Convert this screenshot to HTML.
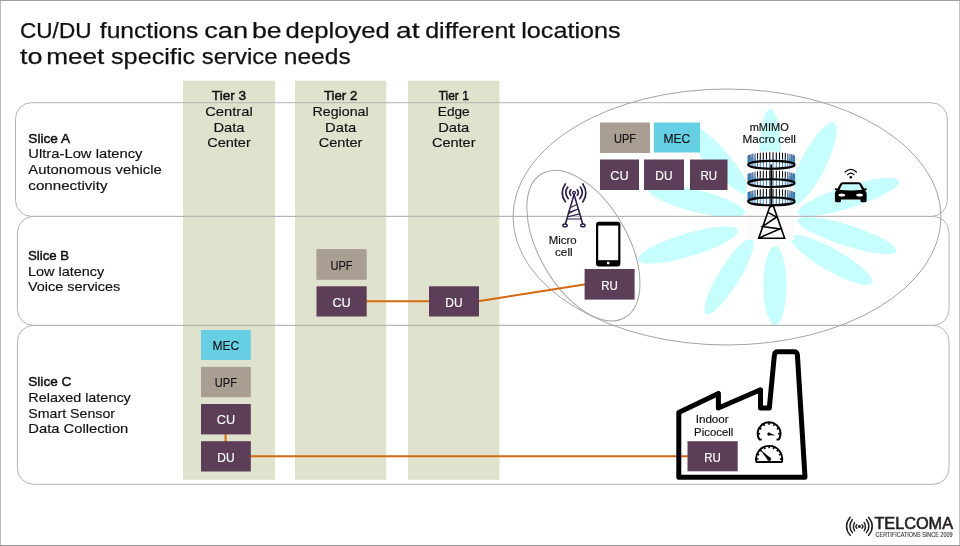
<!DOCTYPE html>
<html><head><meta charset="utf-8"><style>
html,body{margin:0;padding:0;background:#fff;}
svg{display:block;will-change:transform;}
text{font-family:"Liberation Sans", sans-serif;}
</style></head><body>
<svg width="960" height="546" viewBox="0 0 960 546">
<rect x="0" y="0" width="960" height="546" fill="#fff"/>
<rect x="183" y="80.7" width="92" height="399.05" fill="#dfe2cc"/>
<rect x="295" y="80.7" width="91.25" height="399.05" fill="#dfe2cc"/>
<rect x="408" y="80.7" width="91.5" height="399.05" fill="#dfe2cc"/>
<ellipse cx="770.2" cy="154.5" rx="45.5" ry="11.0" transform="rotate(90.3 770.2 154.5)" fill="#c6fdfd"/>
<ellipse cx="813.0" cy="164.0" rx="46.1" ry="12.5" transform="rotate(117.1 813.0 164.0)" fill="#c6fdfd"/>
<ellipse cx="848.5" cy="197.0" rx="53.0" ry="11.0" transform="rotate(162.4 848.5 197.0)" fill="#c6fdfd"/>
<ellipse cx="847.2" cy="235.5" rx="51.6" ry="10.5" transform="rotate(-162.5 847.2 235.5)" fill="#c6fdfd"/>
<ellipse cx="831.5" cy="260.0" rx="46.6" ry="11.0" transform="rotate(-150.4 831.5 260.0)" fill="#c6fdfd"/>
<ellipse cx="775.0" cy="285.5" rx="39.5" ry="11.5" transform="rotate(-90.0 775.0 285.5)" fill="#c6fdfd"/>
<ellipse cx="729.0" cy="276.5" rx="44.0" ry="10.5" transform="rotate(-58.5 729.0 276.5)" fill="#c6fdfd"/>
<ellipse cx="688.0" cy="245.0" rx="52.2" ry="11.5" transform="rotate(-16.7 688.0 245.0)" fill="#c6fdfd"/>
<ellipse cx="696.5" cy="201.0" rx="50.0" ry="11.0" transform="rotate(13.9 696.5 201.0)" fill="#c6fdfd"/>
<ellipse cx="717.0" cy="158.5" rx="46.4" ry="11.0" transform="rotate(48.1 717.0 158.5)" fill="#c6fdfd"/>
<rect x="746.4" y="151.5" width="47.6" height="88.5" fill="#fdfafb"/>
<rect x="15.5" y="102.7" width="931.8" height="113.7" rx="16" ry="16" fill="none" stroke="#b4b4b4" stroke-width="1"/>
<rect x="17.4" y="216.4" width="931.6" height="108.99999999999997" rx="16" ry="16" fill="none" stroke="#b4b4b4" stroke-width="1"/>
<rect x="17.4" y="325.4" width="931.6" height="158.90000000000003" rx="16" ry="16" fill="none" stroke="#b4b4b4" stroke-width="1"/>
<ellipse cx="727" cy="217" rx="214" ry="128" fill="none" stroke="#a4a4a4" stroke-width="1"/>
<ellipse cx="583.4" cy="245.6" rx="83" ry="44.3" transform="rotate(60 583.4 245.6)" fill="none" stroke="#a4a4a4" stroke-width="1"/>
<g stroke="#d4690f" stroke-width="2" fill="none"><line x1="366" y1="301.3" x2="430" y2="301.3"/><line x1="478" y1="301.3" x2="586" y2="284.3"/><line x1="225.6" y1="434" x2="225.6" y2="442"/><line x1="250" y1="456.2" x2="688" y2="456.2"/></g>
<rect x="201" y="330" width="49.80000000000001" height="29.899999999999977" fill="#67cfe4"/><text x="225.9" y="350.2" text-anchor="middle" font-size="12.8" fill="#111111" stroke="#111111" stroke-width="0.15" textLength="26.8" lengthAdjust="spacingAndGlyphs">MEC</text>
<rect x="201" y="366.9" width="49.80000000000001" height="30.30000000000001" fill="#a89e92"/><text x="225.9" y="387.3" text-anchor="middle" font-size="12.8" fill="#111111" stroke="#111111" stroke-width="0.15" textLength="22.1" lengthAdjust="spacingAndGlyphs">UPF</text>
<rect x="201" y="404" width="49.80000000000001" height="30.399999999999977" fill="#5c3e58"/><text x="225.9" y="424.4" text-anchor="middle" font-size="12.8" fill="#fff" stroke="#fff" stroke-width="0.15" textLength="18.4" lengthAdjust="spacingAndGlyphs">CU</text>
<rect x="201" y="441.2" width="49.80000000000001" height="30.30000000000001" fill="#5c3e58"/><text x="225.9" y="461.6" text-anchor="middle" font-size="12.8" fill="#fff" stroke="#fff" stroke-width="0.15" textLength="17.3" lengthAdjust="spacingAndGlyphs">DU</text>
<rect x="316.4" y="249.1" width="50.30000000000001" height="30.700000000000017" fill="#a89e92"/><text x="341.54999999999995" y="269.7" text-anchor="middle" font-size="12.8" fill="#111111" stroke="#111111" stroke-width="0.15" textLength="22.1" lengthAdjust="spacingAndGlyphs">UPF</text>
<rect x="316.5" y="286.3" width="50.19999999999999" height="30.19999999999999" fill="#5c3e58"/><text x="341.6" y="306.6" text-anchor="middle" font-size="12.8" fill="#fff" stroke="#fff" stroke-width="0.15" textLength="18.4" lengthAdjust="spacingAndGlyphs">CU</text>
<rect x="429" y="286.3" width="50" height="30.19999999999999" fill="#5c3e58"/><text x="454.0" y="306.6" text-anchor="middle" font-size="12.8" fill="#fff" stroke="#fff" stroke-width="0.15" textLength="17.3" lengthAdjust="spacingAndGlyphs">DU</text>
<rect x="600" y="122.5" width="50" height="30.5" fill="#a89e92"/><text x="625.0" y="143.0" text-anchor="middle" font-size="12.8" fill="#111111" stroke="#111111" stroke-width="0.15" textLength="22.1" lengthAdjust="spacingAndGlyphs">UPF</text>
<rect x="653.8" y="122.5" width="46.200000000000045" height="30.0" fill="#67cfe4"/><text x="676.9" y="142.7" text-anchor="middle" font-size="12.8" fill="#111111" stroke="#111111" stroke-width="0.15" textLength="26.8" lengthAdjust="spacingAndGlyphs">MEC</text>
<rect x="600" y="159.5" width="39" height="30.5" fill="#5c3e58"/><text x="619.5" y="180.0" text-anchor="middle" font-size="12.8" fill="#fff" stroke="#fff" stroke-width="0.15" textLength="18.4" lengthAdjust="spacingAndGlyphs">CU</text>
<rect x="644" y="159.5" width="40" height="30.5" fill="#5c3e58"/><text x="664.0" y="180.0" text-anchor="middle" font-size="12.8" fill="#fff" stroke="#fff" stroke-width="0.15" textLength="17.3" lengthAdjust="spacingAndGlyphs">DU</text>
<rect x="690" y="159.5" width="37.5" height="30.5" fill="#5c3e58"/><text x="708.75" y="180.0" text-anchor="middle" font-size="12.8" fill="#fff" stroke="#fff" stroke-width="0.15" textLength="16.6" lengthAdjust="spacingAndGlyphs">RU</text>
<rect x="584.6" y="269" width="50.0" height="30.600000000000023" fill="#5c3e58"/><text x="609.6" y="289.5" text-anchor="middle" font-size="12.8" fill="#fff" stroke="#fff" stroke-width="0.15" textLength="16.6" lengthAdjust="spacingAndGlyphs">RU</text>
<rect x="687.5" y="441.2" width="50.200000000000045" height="30.100000000000023" fill="#5c3e58"/><text x="712.6" y="461.5" text-anchor="middle" font-size="12.8" fill="#fff" stroke="#fff" stroke-width="0.15" textLength="16.6" lengthAdjust="spacingAndGlyphs">RU</text>
<text x="20.0" y="37.7" font-size="22.3" font-weight="normal" text-anchor="start" fill="#111111" textLength="71.5" lengthAdjust="spacingAndGlyphs" stroke="#111111" stroke-width="0.25">CU/DU</text>
<text x="99.8" y="37.7" font-size="22.3" font-weight="normal" text-anchor="start" fill="#111111" textLength="98.5" lengthAdjust="spacingAndGlyphs" stroke="#111111" stroke-width="0.25">functions</text>
<text x="204.2" y="37.7" font-size="22.3" font-weight="normal" text-anchor="start" fill="#111111" textLength="43.9" lengthAdjust="spacingAndGlyphs" stroke="#111111" stroke-width="0.25">can</text>
<text x="252.0" y="37.7" font-size="22.3" font-weight="normal" text-anchor="start" fill="#111111" textLength="29.7" lengthAdjust="spacingAndGlyphs" stroke="#111111" stroke-width="0.25">be</text>
<text x="285.6" y="37.7" font-size="22.3" font-weight="normal" text-anchor="start" fill="#111111" textLength="104.3" lengthAdjust="spacingAndGlyphs" stroke="#111111" stroke-width="0.25">deployed</text>
<text x="396.0" y="37.7" font-size="22.3" font-weight="normal" text-anchor="start" fill="#111111" textLength="23.5" lengthAdjust="spacingAndGlyphs" stroke="#111111" stroke-width="0.25">at</text>
<text x="425.2" y="37.7" font-size="22.3" font-weight="normal" text-anchor="start" fill="#111111" textLength="90.1" lengthAdjust="spacingAndGlyphs" stroke="#111111" stroke-width="0.25">different</text>
<text x="521.2" y="37.7" font-size="22.3" font-weight="normal" text-anchor="start" fill="#111111" textLength="99.5" lengthAdjust="spacingAndGlyphs" stroke="#111111" stroke-width="0.25">locations</text>
<text x="20.0" y="63.8" font-size="22.3" font-weight="normal" text-anchor="start" fill="#111111" textLength="22.5" lengthAdjust="spacingAndGlyphs" stroke="#111111" stroke-width="0.25">to</text>
<text x="46.2" y="63.8" font-size="22.3" font-weight="normal" text-anchor="start" fill="#111111" textLength="58.1" lengthAdjust="spacingAndGlyphs" stroke="#111111" stroke-width="0.25">meet</text>
<text x="111.0" y="63.8" font-size="22.3" font-weight="normal" text-anchor="start" fill="#111111" textLength="84.1" lengthAdjust="spacingAndGlyphs" stroke="#111111" stroke-width="0.25">specific</text>
<text x="201.8" y="63.8" font-size="22.3" font-weight="normal" text-anchor="start" fill="#111111" textLength="75.7" lengthAdjust="spacingAndGlyphs" stroke="#111111" stroke-width="0.25">service</text>
<text x="283.8" y="63.8" font-size="22.3" font-weight="normal" text-anchor="start" fill="#111111" textLength="66.9" lengthAdjust="spacingAndGlyphs" stroke="#111111" stroke-width="0.25">needs</text>
<text x="28.3" y="142.5" font-size="13.0" font-weight="normal" text-anchor="start" fill="#111111" textLength="41.7" lengthAdjust="spacingAndGlyphs" stroke="#111111" stroke-width="0.45">Slice A</text>
<text x="28.3" y="158" font-size="13.0" font-weight="normal" text-anchor="start" fill="#111111" textLength="114.2" lengthAdjust="spacingAndGlyphs" stroke="#111111" stroke-width="0.15">Ultra-Low latency</text>
<text x="28.3" y="174" font-size="13.0" font-weight="normal" text-anchor="start" fill="#111111" textLength="133.4" lengthAdjust="spacingAndGlyphs" stroke="#111111" stroke-width="0.15">Autonomous vehicle</text>
<text x="28.3" y="189.7" font-size="13.0" font-weight="normal" text-anchor="start" fill="#111111" textLength="79.2" lengthAdjust="spacingAndGlyphs" stroke="#111111" stroke-width="0.15">connectivity</text>
<text x="28" y="259.7" font-size="13.0" font-weight="normal" text-anchor="start" fill="#111111" textLength="41.2" lengthAdjust="spacingAndGlyphs" stroke="#111111" stroke-width="0.45">Slice B</text>
<text x="28" y="275.5" font-size="13.0" font-weight="normal" text-anchor="start" fill="#111111" textLength="76.2" lengthAdjust="spacingAndGlyphs" stroke="#111111" stroke-width="0.15">Low latency</text>
<text x="28" y="290.8" font-size="13.0" font-weight="normal" text-anchor="start" fill="#111111" textLength="92.3" lengthAdjust="spacingAndGlyphs" stroke="#111111" stroke-width="0.15">Voice services</text>
<text x="28.3" y="386.2" font-size="13.0" font-weight="normal" text-anchor="start" fill="#111111" textLength="43" lengthAdjust="spacingAndGlyphs" stroke="#111111" stroke-width="0.45">Slice C</text>
<text x="28.3" y="402" font-size="13.0" font-weight="normal" text-anchor="start" fill="#111111" textLength="102.5" lengthAdjust="spacingAndGlyphs" stroke="#111111" stroke-width="0.15">Relaxed latency</text>
<text x="28.3" y="417.5" font-size="13.0" font-weight="normal" text-anchor="start" fill="#111111" textLength="86.7" lengthAdjust="spacingAndGlyphs" stroke="#111111" stroke-width="0.15">Smart Sensor</text>
<text x="28.3" y="433.3" font-size="13.0" font-weight="normal" text-anchor="start" fill="#111111" textLength="100" lengthAdjust="spacingAndGlyphs" stroke="#111111" stroke-width="0.15">Data Collection</text>
<text x="229" y="100" font-size="13.0" font-weight="normal" text-anchor="middle" fill="#111111" textLength="34.4" lengthAdjust="spacingAndGlyphs" stroke="#111111" stroke-width="0.45">Tier 3</text>
<text x="229" y="115.9" font-size="13.0" font-weight="normal" text-anchor="middle" fill="#111111" textLength="47.6" lengthAdjust="spacingAndGlyphs" stroke="#111111" stroke-width="0.15">Central</text>
<text x="229" y="132" font-size="13.0" font-weight="normal" text-anchor="middle" fill="#111111" textLength="31.2" lengthAdjust="spacingAndGlyphs" stroke="#111111" stroke-width="0.15">Data</text>
<text x="229" y="147.4" font-size="13.0" font-weight="normal" text-anchor="middle" fill="#111111" textLength="43.6" lengthAdjust="spacingAndGlyphs" stroke="#111111" stroke-width="0.15">Center</text>
<text x="340.6" y="100" font-size="13.0" font-weight="normal" text-anchor="middle" fill="#111111" textLength="33.3" lengthAdjust="spacingAndGlyphs" stroke="#111111" stroke-width="0.45">Tier 2</text>
<text x="340.6" y="115.9" font-size="13.0" font-weight="normal" text-anchor="middle" fill="#111111" textLength="56" lengthAdjust="spacingAndGlyphs" stroke="#111111" stroke-width="0.15">Regional</text>
<text x="340.6" y="132" font-size="13.0" font-weight="normal" text-anchor="middle" fill="#111111" textLength="31.2" lengthAdjust="spacingAndGlyphs" stroke="#111111" stroke-width="0.15">Data</text>
<text x="340.6" y="147.4" font-size="13.0" font-weight="normal" text-anchor="middle" fill="#111111" textLength="43.6" lengthAdjust="spacingAndGlyphs" stroke="#111111" stroke-width="0.15">Center</text>
<text x="453.75" y="100" font-size="13.0" font-weight="normal" text-anchor="middle" fill="#111111" textLength="30.1" lengthAdjust="spacingAndGlyphs" stroke="#111111" stroke-width="0.45">Tier 1</text>
<text x="453.75" y="115.9" font-size="13.0" font-weight="normal" text-anchor="middle" fill="#111111" textLength="32" lengthAdjust="spacingAndGlyphs" stroke="#111111" stroke-width="0.15">Edge</text>
<text x="453.75" y="132" font-size="13.0" font-weight="normal" text-anchor="middle" fill="#111111" textLength="31.2" lengthAdjust="spacingAndGlyphs" stroke="#111111" stroke-width="0.15">Data</text>
<text x="453.75" y="147.4" font-size="13.0" font-weight="normal" text-anchor="middle" fill="#111111" textLength="43.6" lengthAdjust="spacingAndGlyphs" stroke="#111111" stroke-width="0.15">Center</text>
<text x="769.2" y="130.9" font-size="10.7" font-weight="normal" text-anchor="middle" fill="#111111" textLength="39" lengthAdjust="spacingAndGlyphs" stroke="#111111" stroke-width="0.15">mMIMO</text>
<text x="769.2" y="143.2" font-size="10.7" font-weight="normal" text-anchor="middle" fill="#111111" textLength="53.3" lengthAdjust="spacingAndGlyphs" stroke="#111111" stroke-width="0.15">Macro cell</text>
<text x="562.6" y="243.8" font-size="10.7" font-weight="normal" text-anchor="middle" fill="#111111" textLength="27.9" lengthAdjust="spacingAndGlyphs" stroke="#111111" stroke-width="0.15">Micro</text>
<text x="563.8" y="256.3" font-size="10.7" font-weight="normal" text-anchor="middle" fill="#111111" textLength="17.7" lengthAdjust="spacingAndGlyphs" stroke="#111111" stroke-width="0.15">cell</text>
<text x="712.2" y="423.3" font-size="10.7" font-weight="normal" text-anchor="middle" fill="#111111" textLength="33" lengthAdjust="spacingAndGlyphs" stroke="#111111" stroke-width="0.15">Indoor</text>
<text x="713.7" y="435.8" font-size="10.7" font-weight="normal" text-anchor="middle" fill="#111111" textLength="39.2" lengthAdjust="spacingAndGlyphs" stroke="#111111" stroke-width="0.15">Picocell</text>
<path d="M678.8,477.2 L678.8,412.4 L718.4,393.4 L718.4,408 L760.5,389.8 L760.5,408.1 L769.3,408.1 L774.4,355 Q774.6,351.7 778,351.7 L794,351.7 Q797.1,351.7 797.4,355 L805,477.2 Z" fill="none" stroke="#000" stroke-width="5" stroke-linejoin="round"/>
<line x1="748.26" y1="155.92" x2="748.26" y2="164.52" stroke="#1d4b80" stroke-width="1.05"/><line x1="748.73" y1="155.37" x2="748.73" y2="163.97" stroke="#1d4b80" stroke-width="1.05"/><line x1="749.66" y1="154.84" x2="749.66" y2="163.44" stroke="#1d4b80" stroke-width="1.05"/><line x1="751.04" y1="154.33" x2="751.04" y2="162.93" stroke="#1d4b80" stroke-width="1.05"/><line x1="752.83" y1="153.86" x2="752.83" y2="162.46" stroke="#1d4b80" stroke-width="1.05"/><line x1="755.00" y1="153.44" x2="755.00" y2="162.04" stroke="#1d4b80" stroke-width="1.05"/><line x1="757.50" y1="153.08" x2="757.50" y2="161.68" stroke="#05070c" stroke-width="1.05"/><line x1="760.28" y1="152.78" x2="760.28" y2="161.38" stroke="#05070c" stroke-width="1.05"/><line x1="763.29" y1="152.55" x2="763.29" y2="161.15" stroke="#05070c" stroke-width="1.05"/><line x1="766.47" y1="152.39" x2="766.47" y2="160.99" stroke="#05070c" stroke-width="1.05"/><line x1="769.74" y1="152.31" x2="769.74" y2="160.91" stroke="#05070c" stroke-width="1.05"/><line x1="773.06" y1="152.31" x2="773.06" y2="160.91" stroke="#05070c" stroke-width="1.05"/><line x1="776.33" y1="152.39" x2="776.33" y2="160.99" stroke="#05070c" stroke-width="1.05"/><line x1="779.51" y1="152.55" x2="779.51" y2="161.15" stroke="#05070c" stroke-width="1.05"/><line x1="782.52" y1="152.78" x2="782.52" y2="161.38" stroke="#05070c" stroke-width="1.05"/><line x1="785.30" y1="153.08" x2="785.30" y2="161.68" stroke="#05070c" stroke-width="1.05"/><line x1="787.80" y1="153.44" x2="787.80" y2="162.04" stroke="#1d4b80" stroke-width="1.05"/><line x1="789.97" y1="153.86" x2="789.97" y2="162.46" stroke="#1d4b80" stroke-width="1.05"/><line x1="791.76" y1="154.33" x2="791.76" y2="162.93" stroke="#1d4b80" stroke-width="1.05"/><line x1="793.14" y1="154.84" x2="793.14" y2="163.44" stroke="#1d4b80" stroke-width="1.05"/><line x1="794.07" y1="155.37" x2="794.07" y2="163.97" stroke="#1d4b80" stroke-width="1.05"/><line x1="794.54" y1="155.92" x2="794.54" y2="164.52" stroke="#1d4b80" stroke-width="1.05"/><line x1="794.54" y1="155.58" x2="794.54" y2="165.08" stroke="#3a80b8" stroke-width="0.95"/><line x1="794.07" y1="156.13" x2="794.07" y2="165.63" stroke="#3a80b8" stroke-width="0.95"/><line x1="793.14" y1="156.66" x2="793.14" y2="166.16" stroke="#3a80b8" stroke-width="0.95"/><line x1="791.76" y1="157.17" x2="791.76" y2="166.67" stroke="#3a80b8" stroke-width="0.95"/><line x1="789.97" y1="157.64" x2="789.97" y2="167.14" stroke="#3a80b8" stroke-width="0.95"/><line x1="787.80" y1="158.06" x2="787.80" y2="167.56" stroke="#3a80b8" stroke-width="0.95"/><line x1="785.30" y1="158.42" x2="785.30" y2="167.92" stroke="#3a80b8" stroke-width="0.95"/><line x1="782.52" y1="158.72" x2="782.52" y2="168.22" stroke="#3a80b8" stroke-width="0.95"/><line x1="779.51" y1="158.95" x2="779.51" y2="168.45" stroke="#3a80b8" stroke-width="0.95"/><line x1="776.33" y1="159.11" x2="776.33" y2="168.61" stroke="#3a80b8" stroke-width="0.95"/><line x1="773.06" y1="159.19" x2="773.06" y2="168.69" stroke="#3a80b8" stroke-width="0.95"/><line x1="769.74" y1="159.19" x2="769.74" y2="168.69" stroke="#3a80b8" stroke-width="0.95"/><line x1="766.47" y1="159.11" x2="766.47" y2="168.61" stroke="#3a80b8" stroke-width="0.95"/><line x1="763.29" y1="158.95" x2="763.29" y2="168.45" stroke="#3a80b8" stroke-width="0.95"/><line x1="760.28" y1="158.72" x2="760.28" y2="168.22" stroke="#3a80b8" stroke-width="0.95"/><line x1="757.50" y1="158.42" x2="757.50" y2="167.92" stroke="#3a80b8" stroke-width="0.95"/><line x1="755.00" y1="158.06" x2="755.00" y2="167.56" stroke="#3a80b8" stroke-width="0.95"/><line x1="752.83" y1="157.64" x2="752.83" y2="167.14" stroke="#3a80b8" stroke-width="0.95"/><line x1="751.04" y1="157.17" x2="751.04" y2="166.67" stroke="#3a80b8" stroke-width="0.95"/><line x1="749.66" y1="156.66" x2="749.66" y2="166.16" stroke="#3a80b8" stroke-width="0.95"/><line x1="748.73" y1="156.13" x2="748.73" y2="165.63" stroke="#3a80b8" stroke-width="0.95"/><line x1="748.26" y1="155.58" x2="748.26" y2="165.08" stroke="#3a80b8" stroke-width="0.95"/><ellipse cx="771.4" cy="164.8" rx="23.2" ry="3.9" fill="none" stroke="#000" stroke-width="2.1"/>
<line x1="748.26" y1="174.22" x2="748.26" y2="182.82" stroke="#1d4b80" stroke-width="1.05"/><line x1="748.73" y1="173.67" x2="748.73" y2="182.27" stroke="#1d4b80" stroke-width="1.05"/><line x1="749.66" y1="173.14" x2="749.66" y2="181.74" stroke="#1d4b80" stroke-width="1.05"/><line x1="751.04" y1="172.63" x2="751.04" y2="181.23" stroke="#1d4b80" stroke-width="1.05"/><line x1="752.83" y1="172.16" x2="752.83" y2="180.76" stroke="#1d4b80" stroke-width="1.05"/><line x1="755.00" y1="171.74" x2="755.00" y2="180.34" stroke="#1d4b80" stroke-width="1.05"/><line x1="757.50" y1="171.38" x2="757.50" y2="179.98" stroke="#05070c" stroke-width="1.05"/><line x1="760.28" y1="171.08" x2="760.28" y2="179.68" stroke="#05070c" stroke-width="1.05"/><line x1="763.29" y1="170.85" x2="763.29" y2="179.45" stroke="#05070c" stroke-width="1.05"/><line x1="766.47" y1="170.69" x2="766.47" y2="179.29" stroke="#05070c" stroke-width="1.05"/><line x1="769.74" y1="170.61" x2="769.74" y2="179.21" stroke="#05070c" stroke-width="1.05"/><line x1="773.06" y1="170.61" x2="773.06" y2="179.21" stroke="#05070c" stroke-width="1.05"/><line x1="776.33" y1="170.69" x2="776.33" y2="179.29" stroke="#05070c" stroke-width="1.05"/><line x1="779.51" y1="170.85" x2="779.51" y2="179.45" stroke="#05070c" stroke-width="1.05"/><line x1="782.52" y1="171.08" x2="782.52" y2="179.68" stroke="#05070c" stroke-width="1.05"/><line x1="785.30" y1="171.38" x2="785.30" y2="179.98" stroke="#05070c" stroke-width="1.05"/><line x1="787.80" y1="171.74" x2="787.80" y2="180.34" stroke="#1d4b80" stroke-width="1.05"/><line x1="789.97" y1="172.16" x2="789.97" y2="180.76" stroke="#1d4b80" stroke-width="1.05"/><line x1="791.76" y1="172.63" x2="791.76" y2="181.23" stroke="#1d4b80" stroke-width="1.05"/><line x1="793.14" y1="173.14" x2="793.14" y2="181.74" stroke="#1d4b80" stroke-width="1.05"/><line x1="794.07" y1="173.67" x2="794.07" y2="182.27" stroke="#1d4b80" stroke-width="1.05"/><line x1="794.54" y1="174.22" x2="794.54" y2="182.82" stroke="#1d4b80" stroke-width="1.05"/><line x1="794.54" y1="173.88" x2="794.54" y2="183.38" stroke="#3a80b8" stroke-width="0.95"/><line x1="794.07" y1="174.43" x2="794.07" y2="183.93" stroke="#3a80b8" stroke-width="0.95"/><line x1="793.14" y1="174.96" x2="793.14" y2="184.46" stroke="#3a80b8" stroke-width="0.95"/><line x1="791.76" y1="175.47" x2="791.76" y2="184.97" stroke="#3a80b8" stroke-width="0.95"/><line x1="789.97" y1="175.94" x2="789.97" y2="185.44" stroke="#3a80b8" stroke-width="0.95"/><line x1="787.80" y1="176.36" x2="787.80" y2="185.86" stroke="#3a80b8" stroke-width="0.95"/><line x1="785.30" y1="176.72" x2="785.30" y2="186.22" stroke="#3a80b8" stroke-width="0.95"/><line x1="782.52" y1="177.02" x2="782.52" y2="186.52" stroke="#3a80b8" stroke-width="0.95"/><line x1="779.51" y1="177.25" x2="779.51" y2="186.75" stroke="#3a80b8" stroke-width="0.95"/><line x1="776.33" y1="177.41" x2="776.33" y2="186.91" stroke="#3a80b8" stroke-width="0.95"/><line x1="773.06" y1="177.49" x2="773.06" y2="186.99" stroke="#3a80b8" stroke-width="0.95"/><line x1="769.74" y1="177.49" x2="769.74" y2="186.99" stroke="#3a80b8" stroke-width="0.95"/><line x1="766.47" y1="177.41" x2="766.47" y2="186.91" stroke="#3a80b8" stroke-width="0.95"/><line x1="763.29" y1="177.25" x2="763.29" y2="186.75" stroke="#3a80b8" stroke-width="0.95"/><line x1="760.28" y1="177.02" x2="760.28" y2="186.52" stroke="#3a80b8" stroke-width="0.95"/><line x1="757.50" y1="176.72" x2="757.50" y2="186.22" stroke="#3a80b8" stroke-width="0.95"/><line x1="755.00" y1="176.36" x2="755.00" y2="185.86" stroke="#3a80b8" stroke-width="0.95"/><line x1="752.83" y1="175.94" x2="752.83" y2="185.44" stroke="#3a80b8" stroke-width="0.95"/><line x1="751.04" y1="175.47" x2="751.04" y2="184.97" stroke="#3a80b8" stroke-width="0.95"/><line x1="749.66" y1="174.96" x2="749.66" y2="184.46" stroke="#3a80b8" stroke-width="0.95"/><line x1="748.73" y1="174.43" x2="748.73" y2="183.93" stroke="#3a80b8" stroke-width="0.95"/><line x1="748.26" y1="173.88" x2="748.26" y2="183.38" stroke="#3a80b8" stroke-width="0.95"/><ellipse cx="771.4" cy="183.1" rx="23.2" ry="3.9" fill="none" stroke="#000" stroke-width="2.1"/>
<line x1="748.26" y1="192.52" x2="748.26" y2="201.12" stroke="#1d4b80" stroke-width="1.05"/><line x1="748.73" y1="191.97" x2="748.73" y2="200.57" stroke="#1d4b80" stroke-width="1.05"/><line x1="749.66" y1="191.44" x2="749.66" y2="200.04" stroke="#1d4b80" stroke-width="1.05"/><line x1="751.04" y1="190.93" x2="751.04" y2="199.53" stroke="#1d4b80" stroke-width="1.05"/><line x1="752.83" y1="190.46" x2="752.83" y2="199.06" stroke="#1d4b80" stroke-width="1.05"/><line x1="755.00" y1="190.04" x2="755.00" y2="198.64" stroke="#1d4b80" stroke-width="1.05"/><line x1="757.50" y1="189.68" x2="757.50" y2="198.28" stroke="#05070c" stroke-width="1.05"/><line x1="760.28" y1="189.38" x2="760.28" y2="197.98" stroke="#05070c" stroke-width="1.05"/><line x1="763.29" y1="189.15" x2="763.29" y2="197.75" stroke="#05070c" stroke-width="1.05"/><line x1="766.47" y1="188.99" x2="766.47" y2="197.59" stroke="#05070c" stroke-width="1.05"/><line x1="769.74" y1="188.91" x2="769.74" y2="197.51" stroke="#05070c" stroke-width="1.05"/><line x1="773.06" y1="188.91" x2="773.06" y2="197.51" stroke="#05070c" stroke-width="1.05"/><line x1="776.33" y1="188.99" x2="776.33" y2="197.59" stroke="#05070c" stroke-width="1.05"/><line x1="779.51" y1="189.15" x2="779.51" y2="197.75" stroke="#05070c" stroke-width="1.05"/><line x1="782.52" y1="189.38" x2="782.52" y2="197.98" stroke="#05070c" stroke-width="1.05"/><line x1="785.30" y1="189.68" x2="785.30" y2="198.28" stroke="#05070c" stroke-width="1.05"/><line x1="787.80" y1="190.04" x2="787.80" y2="198.64" stroke="#1d4b80" stroke-width="1.05"/><line x1="789.97" y1="190.46" x2="789.97" y2="199.06" stroke="#1d4b80" stroke-width="1.05"/><line x1="791.76" y1="190.93" x2="791.76" y2="199.53" stroke="#1d4b80" stroke-width="1.05"/><line x1="793.14" y1="191.44" x2="793.14" y2="200.04" stroke="#1d4b80" stroke-width="1.05"/><line x1="794.07" y1="191.97" x2="794.07" y2="200.57" stroke="#1d4b80" stroke-width="1.05"/><line x1="794.54" y1="192.52" x2="794.54" y2="201.12" stroke="#1d4b80" stroke-width="1.05"/><line x1="794.54" y1="192.18" x2="794.54" y2="201.68" stroke="#3a80b8" stroke-width="0.95"/><line x1="794.07" y1="192.73" x2="794.07" y2="202.23" stroke="#3a80b8" stroke-width="0.95"/><line x1="793.14" y1="193.26" x2="793.14" y2="202.76" stroke="#3a80b8" stroke-width="0.95"/><line x1="791.76" y1="193.77" x2="791.76" y2="203.27" stroke="#3a80b8" stroke-width="0.95"/><line x1="789.97" y1="194.24" x2="789.97" y2="203.74" stroke="#3a80b8" stroke-width="0.95"/><line x1="787.80" y1="194.66" x2="787.80" y2="204.16" stroke="#3a80b8" stroke-width="0.95"/><line x1="785.30" y1="195.02" x2="785.30" y2="204.52" stroke="#3a80b8" stroke-width="0.95"/><line x1="782.52" y1="195.32" x2="782.52" y2="204.82" stroke="#3a80b8" stroke-width="0.95"/><line x1="779.51" y1="195.55" x2="779.51" y2="205.05" stroke="#3a80b8" stroke-width="0.95"/><line x1="776.33" y1="195.71" x2="776.33" y2="205.21" stroke="#3a80b8" stroke-width="0.95"/><line x1="773.06" y1="195.79" x2="773.06" y2="205.29" stroke="#3a80b8" stroke-width="0.95"/><line x1="769.74" y1="195.79" x2="769.74" y2="205.29" stroke="#3a80b8" stroke-width="0.95"/><line x1="766.47" y1="195.71" x2="766.47" y2="205.21" stroke="#3a80b8" stroke-width="0.95"/><line x1="763.29" y1="195.55" x2="763.29" y2="205.05" stroke="#3a80b8" stroke-width="0.95"/><line x1="760.28" y1="195.32" x2="760.28" y2="204.82" stroke="#3a80b8" stroke-width="0.95"/><line x1="757.50" y1="195.02" x2="757.50" y2="204.52" stroke="#3a80b8" stroke-width="0.95"/><line x1="755.00" y1="194.66" x2="755.00" y2="204.16" stroke="#3a80b8" stroke-width="0.95"/><line x1="752.83" y1="194.24" x2="752.83" y2="203.74" stroke="#3a80b8" stroke-width="0.95"/><line x1="751.04" y1="193.77" x2="751.04" y2="203.27" stroke="#3a80b8" stroke-width="0.95"/><line x1="749.66" y1="193.26" x2="749.66" y2="202.76" stroke="#3a80b8" stroke-width="0.95"/><line x1="748.73" y1="192.73" x2="748.73" y2="202.23" stroke="#3a80b8" stroke-width="0.95"/><line x1="748.26" y1="192.18" x2="748.26" y2="201.68" stroke="#3a80b8" stroke-width="0.95"/><ellipse cx="771.4" cy="201.4" rx="23.2" ry="3.9" fill="none" stroke="#000" stroke-width="2.1"/>
<line x1="771.3" y1="164.5" x2="771.3" y2="207" stroke="#000" stroke-width="1.8"/>
<path d="M769.7,207 L758.7,238.2 L784.6,238.2 L773.4,206 Z M767.9,212.4 L776.6,217 L762.4,226.6 L779.8,228.9 L758.7,238.2" fill="none" stroke="#000" stroke-width="1.6" stroke-linejoin="miter"/>
<g stroke="#2d1f4e" fill="none" stroke-width="1.7" stroke-linecap="round"><path d="M565.3,183.9 Q559.2,192.8 565.3,201.8"/><path d="M567.8,187.1 Q563.6,192.8 568.3,198.7"/><path d="M570.8,189.8 Q568.6,192.8 570.8,195.2"/><path d="M582.8,183.9 Q588.9,192.8 582.8,201.8"/><path d="M580.3,187.1 Q584.5,192.8 579.8,198.7"/><path d="M577.3,189.8 Q579.5,192.8 577.3,195.2"/></g>
<circle cx="574.05" cy="192.8" r="1.4" fill="none" stroke="#2d1f4e" stroke-width="1.3"/>
<g stroke="#2d1f4e" fill="none" stroke-linecap="round" stroke-linejoin="round"><path d="M574,194.6 L565.3,224.3 M574.1,194.6 L582.8,224.3" stroke-width="1.6"/><path d="M570.6,207.6 L576.9,204.5 M569.3,212.3 L578.0,209.0 L569.0,213.2 M568.0,216.8 L579.6,213.9 M567.5,219.0 L580.6,219.0" stroke-width="1.1"/></g>
<ellipse cx="565" cy="225.4" rx="2.2" ry="1.4" fill="#fff" stroke="#2d1f4e" stroke-width="1.4"/>
<ellipse cx="582.9" cy="225.4" rx="2.2" ry="1.4" fill="#fff" stroke="#2d1f4e" stroke-width="1.4"/>
<rect x="596" y="221.7" width="24.4" height="44.8" rx="3" fill="#000"/>
<rect x="598.2" y="225.6" width="20" height="34.6" fill="#fff"/>
<circle cx="608.2" cy="263.1" r="1.4" fill="#fff"/>
<path d="M842.5,182.2 L858.8,182.2 Q860.5,182.2 861.5,184 L864,188.6 L866,188.2 Q867,188.3 866.8,189.5 L865.2,190.5 Q866.6,191.8 866.6,193.5 L866.6,200.5 Q866.6,202.3 865,202.3 L862,202.3 Q860.5,202.3 860.5,200.8 L860.5,199.5 L841,199.5 L841,200.8 Q841,202.3 839.5,202.3 L836.5,202.3 Q834.9,202.3 834.9,200.5 L834.9,193.5 Q834.9,191.8 836.3,190.5 L834.7,189.5 Q834.5,188.3 835.5,188.2 L837.5,188.6 L840,184 Q841,182.2 842.5,182.2 Z" fill="#000"/>
<path d="M842.3,184.2 L859.2,184.2 L862,189.8 Q850.8,191.2 839.5,189.8 Z" fill="#c6fdfd"/>
<ellipse cx="841.8" cy="195" rx="3.3" ry="1.5" fill="#fff"/>
<ellipse cx="859.6" cy="195" rx="3.3" ry="1.5" fill="#fff"/>
<g fill="none" stroke="#000" stroke-width="1.3" stroke-linecap="round"><path d="M845.2,172 Q850.8,166.8 856.4,172"/><path d="M847.6,174.6 Q850.8,171.6 854,174.6"/></g>
<circle cx="850.8" cy="177.3" r="1.3" fill="#000"/>
<g stroke="#000" fill="none"><path d="M759.33,439.57 A11.4,11.4 0 1 1 778.87,439.57" stroke-width="2"/><line x1="780.80" y1="433.70" x2="778.10" y2="433.70" stroke-width="1.6"/><line x1="779.23" y1="427.85" x2="776.89" y2="429.20" stroke-width="1.6"/><line x1="774.95" y1="423.57" x2="773.60" y2="425.91" stroke-width="1.6"/><line x1="769.10" y1="422.00" x2="769.10" y2="424.70" stroke-width="1.6"/><line x1="763.25" y1="423.57" x2="764.60" y2="425.91" stroke-width="1.6"/><line x1="758.97" y1="427.85" x2="761.31" y2="429.20" stroke-width="1.6"/><line x1="757.40" y1="433.70" x2="760.10" y2="433.70" stroke-width="1.6"/><line x1="759.03" y1="439.57" x2="761.73" y2="439.57" stroke-width="1.8"/><line x1="779.17" y1="439.57" x2="776.47" y2="439.57" stroke-width="1.8"/></g><circle cx="768.8000000000001" cy="434.0" r="1.5" fill="#000"/><path d="M768.6,432.59999999999997 L775.4,435.59999999999997 L768.2,435.3 Z" fill="#000"/>
<g stroke="#000" fill="none"><path d="M756.40,462.0 A13.1,13.1 0 1 1 781.90,462.0 Z" stroke-width="1.9" stroke-linejoin="round"/><line x1="755.75" y1="459.00" x2="758.45" y2="459.00" stroke-width="1.6"/><line x1="756.77" y1="453.87" x2="759.26" y2="454.91" stroke-width="1.6"/><line x1="759.67" y1="449.52" x2="761.58" y2="451.43" stroke-width="1.6"/><line x1="764.02" y1="446.62" x2="765.06" y2="449.11" stroke-width="1.6"/><line x1="769.15" y1="445.60" x2="769.15" y2="448.30" stroke-width="1.6"/><line x1="774.28" y1="446.62" x2="773.24" y2="449.11" stroke-width="1.6"/><line x1="778.63" y1="449.52" x2="776.72" y2="451.43" stroke-width="1.6"/><line x1="781.53" y1="453.87" x2="779.04" y2="454.91" stroke-width="1.6"/><line x1="782.55" y1="459.00" x2="779.85" y2="459.00" stroke-width="1.6"/></g><circle cx="769.15" cy="459.0" r="1.9" fill="#000"/><path d="M767.85,460.1 L761.25,451.3 L761.75,450.8 L770.25,457.7 Z" fill="#000"/>
<g fill="none" stroke="#231f20" stroke-width="1.45" stroke-linecap="round"><path d="M850.25,517.3 Q842.75,526.5 850.25,535.4"/><path d="M868.55,517.3 Q876.05,526.5 868.55,535.4"/><path d="M852.4,519.5 Q847.40,526.5 852.4,532.6"/><path d="M866.40,519.5 Q871.40,526.5 866.40,532.6"/><path d="M854.6,522.6 Q852.20,526.5 854.6,530.75"/><path d="M864.20,522.6 Q866.60,526.5 864.20,530.75"/><path d="M856.8,524.8 Q855.00,526.5 856.8,528.25"/><path d="M862.00,524.8 Q863.80,526.5 862.00,528.25"/></g>
<circle cx="859.4" cy="526.5" r="1.5" fill="#231f20"/>
<text x="874.4" y="528.7" font-size="16" fill="#231f20" stroke="#231f20" stroke-width="0.6" textLength="78.6" lengthAdjust="spacingAndGlyphs">TELCOMA</text>
<text x="875.6" y="536.6" font-size="6.4" fill="#3a3a3a" stroke="#3a3a3a" stroke-width="0.12" textLength="76.9" lengthAdjust="spacingAndGlyphs">CERTIFICATIONS SINCE 2009</text>
<rect x="0" y="0" width="1" height="546" fill="#b9b9b9"/><rect x="959" y="0" width="1" height="546" fill="#c2c2c2"/><rect x="0" y="0" width="960" height="1" fill="#a0a0a0"/><rect x="0" y="545" width="960" height="1" fill="#959595"/>
</svg>
</body></html>
